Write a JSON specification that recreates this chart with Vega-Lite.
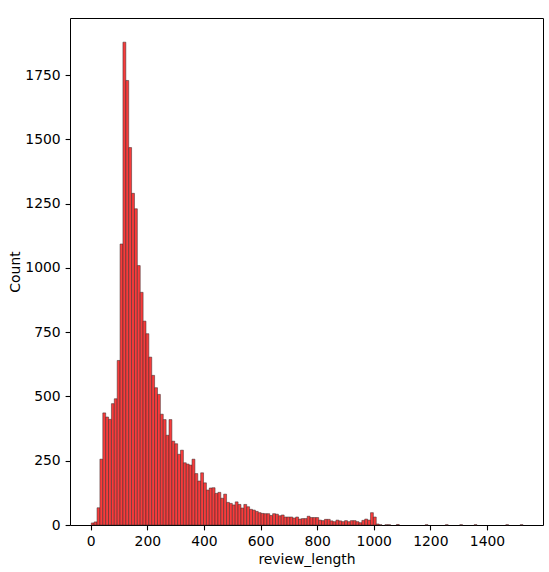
{
  "$schema": "https://vega.github.io/schema/vega-lite/v6.json",
  "width": 473,
  "height": 507,
  "autosize": {"type": "none"},
  "padding": {"left": 70, "top": 18, "right": 6, "bottom": 47},
  "data": {
    "values": [
      {"start": 2, "end": 12.17, "count": 8},
      {"start": 12.17, "end": 22.34, "count": 12},
      {"start": 22.34, "end": 32.51, "count": 67},
      {"start": 32.51, "end": 42.68, "count": 256},
      {"start": 42.68, "end": 52.85, "count": 436},
      {"start": 52.85, "end": 63.02, "count": 420},
      {"start": 63.02, "end": 73.19, "count": 411},
      {"start": 73.19, "end": 83.36, "count": 472},
      {"start": 83.36, "end": 93.53, "count": 491},
      {"start": 93.53, "end": 103.7, "count": 640},
      {"start": 103.7, "end": 113.87, "count": 1093},
      {"start": 113.87, "end": 124.04, "count": 1878},
      {"start": 124.04, "end": 134.21, "count": 1729},
      {"start": 134.21, "end": 144.38, "count": 1468},
      {"start": 144.38, "end": 154.55, "count": 1290},
      {"start": 154.55, "end": 164.72, "count": 1230},
      {"start": 164.72, "end": 174.89, "count": 1009},
      {"start": 174.89, "end": 185.06, "count": 905},
      {"start": 185.06, "end": 195.23, "count": 793},
      {"start": 195.23, "end": 205.4, "count": 744},
      {"start": 205.4, "end": 215.57, "count": 653},
      {"start": 215.57, "end": 225.74, "count": 582},
      {"start": 225.74, "end": 235.91, "count": 534},
      {"start": 235.91, "end": 246.08, "count": 508},
      {"start": 246.08, "end": 256.25, "count": 431},
      {"start": 256.25, "end": 266.42, "count": 410},
      {"start": 266.42, "end": 276.59, "count": 349},
      {"start": 276.59, "end": 286.76, "count": 410},
      {"start": 286.76, "end": 296.93, "count": 326},
      {"start": 296.93, "end": 307.1, "count": 316},
      {"start": 307.1, "end": 317.27, "count": 275},
      {"start": 317.27, "end": 327.44, "count": 291},
      {"start": 327.44, "end": 337.61, "count": 242},
      {"start": 337.61, "end": 347.78, "count": 237},
      {"start": 347.78, "end": 357.95, "count": 233},
      {"start": 357.95, "end": 368.12, "count": 256},
      {"start": 368.12, "end": 378.29, "count": 200},
      {"start": 378.29, "end": 388.46, "count": 171},
      {"start": 388.46, "end": 398.63, "count": 203},
      {"start": 398.63, "end": 408.8, "count": 164},
      {"start": 408.8, "end": 418.97, "count": 136},
      {"start": 418.97, "end": 429.14, "count": 144},
      {"start": 429.14, "end": 439.31, "count": 145},
      {"start": 439.31, "end": 449.48, "count": 123},
      {"start": 449.48, "end": 459.65, "count": 127},
      {"start": 459.65, "end": 469.82, "count": 104},
      {"start": 469.82, "end": 479.99, "count": 120},
      {"start": 479.99, "end": 490.16, "count": 88},
      {"start": 490.16, "end": 500.33, "count": 84},
      {"start": 500.33, "end": 510.5, "count": 78},
      {"start": 510.5, "end": 520.67, "count": 90},
      {"start": 520.67, "end": 530.84, "count": 80},
      {"start": 530.84, "end": 541.01, "count": 66},
      {"start": 541.01, "end": 551.18, "count": 80},
      {"start": 551.18, "end": 561.35, "count": 71},
      {"start": 561.35, "end": 571.52, "count": 61},
      {"start": 571.52, "end": 581.69, "count": 58},
      {"start": 581.69, "end": 591.86, "count": 53},
      {"start": 591.86, "end": 602.03, "count": 48},
      {"start": 602.03, "end": 612.2, "count": 45},
      {"start": 612.2, "end": 622.37, "count": 44},
      {"start": 622.37, "end": 632.54, "count": 44},
      {"start": 632.54, "end": 642.71, "count": 37},
      {"start": 642.71, "end": 652.88, "count": 44},
      {"start": 652.88, "end": 663.05, "count": 42},
      {"start": 663.05, "end": 673.22, "count": 36},
      {"start": 673.22, "end": 683.39, "count": 39},
      {"start": 683.39, "end": 693.56, "count": 31},
      {"start": 693.56, "end": 703.73, "count": 31},
      {"start": 703.73, "end": 713.9, "count": 31},
      {"start": 713.9, "end": 724.07, "count": 27},
      {"start": 724.07, "end": 734.24, "count": 31},
      {"start": 734.24, "end": 744.41, "count": 23},
      {"start": 744.41, "end": 754.58, "count": 25},
      {"start": 754.58, "end": 764.75, "count": 25},
      {"start": 764.75, "end": 774.92, "count": 34},
      {"start": 774.92, "end": 785.09, "count": 29},
      {"start": 785.09, "end": 795.26, "count": 29},
      {"start": 795.26, "end": 805.43, "count": 29},
      {"start": 805.43, "end": 815.6, "count": 19},
      {"start": 815.6, "end": 825.77, "count": 17},
      {"start": 825.77, "end": 835.94, "count": 22},
      {"start": 835.94, "end": 846.11, "count": 22},
      {"start": 846.11, "end": 856.28, "count": 16},
      {"start": 856.28, "end": 866.45, "count": 13},
      {"start": 866.45, "end": 876.62, "count": 19},
      {"start": 876.62, "end": 886.79, "count": 16},
      {"start": 886.79, "end": 896.96, "count": 13},
      {"start": 896.96, "end": 907.13, "count": 17},
      {"start": 907.13, "end": 917.3, "count": 13},
      {"start": 917.3, "end": 927.47, "count": 17},
      {"start": 927.47, "end": 937.64, "count": 17},
      {"start": 937.64, "end": 947.81, "count": 13},
      {"start": 947.81, "end": 957.98, "count": 9},
      {"start": 957.98, "end": 968.15, "count": 18},
      {"start": 968.15, "end": 978.32, "count": 23},
      {"start": 978.32, "end": 988.49, "count": 19},
      {"start": 988.49, "end": 998.66, "count": 48},
      {"start": 998.66, "end": 1008.83, "count": 31},
      {"start": 1008.83, "end": 1019, "count": 4},
      {"start": 1019, "end": 1029.17, "count": 1},
      {"start": 1039.34, "end": 1049.51, "count": 1},
      {"start": 1049.51, "end": 1059.68, "count": 1},
      {"start": 1080.02, "end": 1090.19, "count": 2},
      {"start": 1181.72, "end": 1191.89, "count": 1},
      {"start": 1252.91, "end": 1263.08, "count": 1},
      {"start": 1303.76, "end": 1313.93, "count": 1},
      {"start": 1354.61, "end": 1364.78, "count": 1},
      {"start": 1466.48, "end": 1476.65, "count": 1},
      {"start": 1517.33, "end": 1527.5, "count": 1}
    ]
  },
  "mark": {
    "type": "bar",
    "fill": "#f83c3c",
    "stroke": "#3a2a2a",
    "strokeWidth": 0.7,
    "strokeOpacity": 0.75
  },
  "encoding": {
    "x": {
      "field": "start",
      "type": "quantitative",
      "title": "review_length",
      "scale": {"domain": [-73.2, 1598], "nice": false, "zero": false},
      "axis": {"values": [0, 200, 400, 600, 800, 1000, 1200, 1400], "format": "d"}
    },
    "x2": {"field": "end"},
    "y": {
      "field": "count",
      "type": "quantitative",
      "title": "Count",
      "scale": {"domain": [0, 1972], "nice": false},
      "axis": {"values": [0, 250, 500, 750, 1000, 1250, 1500, 1750], "format": "d"}
    },
    "y2": {"datum": 0}
  },
  "config": {
    "font": "DejaVu Sans",
    "view": {"stroke": "#000000", "strokeWidth": 1},
    "axis": {
      "domain": false,
      "grid": false,
      "ticks": true,
      "tickColor": "#000000",
      "tickSize": 4.9,
      "tickWidth": 1.1,
      "labelPadding": 4.9,
      "labelFont": "DejaVu Sans",
      "labelFontSize": 13.9,
      "labelColor": "#000000",
      "titleFont": "DejaVu Sans",
      "titleFontSize": 13.9,
      "titleFontWeight": "normal",
      "titleColor": "#000000"
    },
    "axisX": {"titlePadding": 4},
    "axisY": {"titlePadding": 2, "labelAngle": 0}
  }
}
